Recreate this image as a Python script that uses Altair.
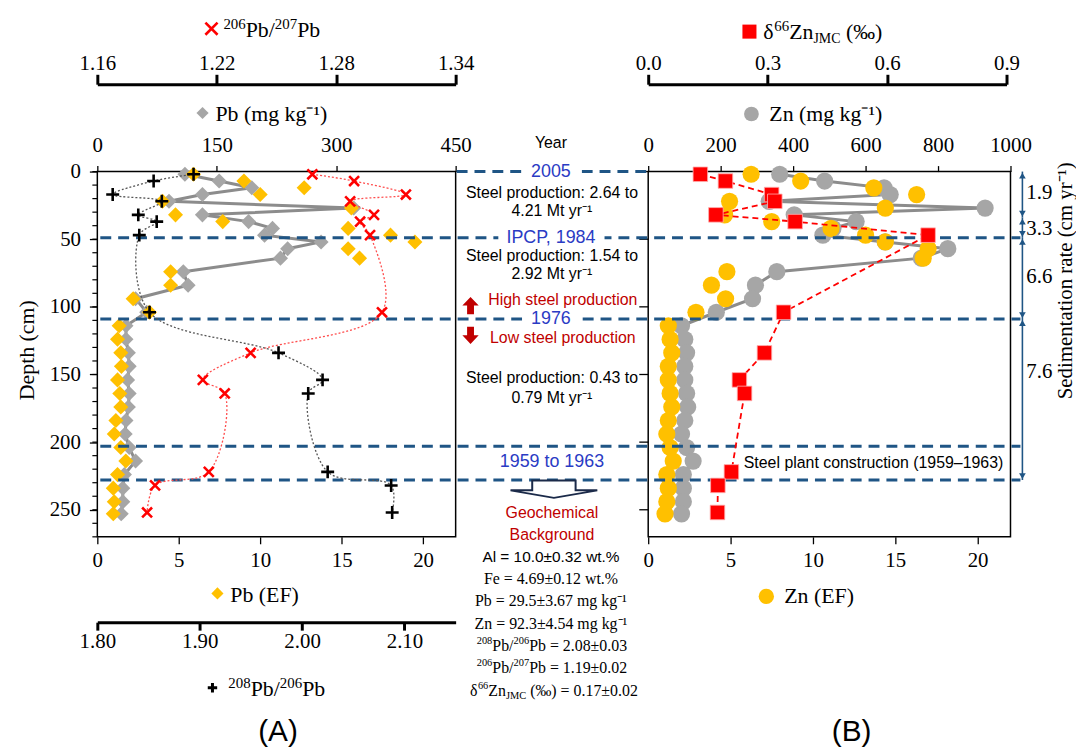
import altair as alt
import pandas as pd

# ---------------- data ----------------
depth_upper = [2, 7, 12, 17, 22, 27, 32, 37, 42, 47, 52, 57, 64, 74, 84, 94, 104]
depth_lower = [114, 124, 134, 144, 154, 164, 174, 184, 194, 204, 214, 224, 234, 244, 253]

pb_mgkg_upper = [110, 153, 194, 132, 90, 322, 132, 190, 220, 210, 281, 239, 230, 108, 114, 48, 62]
pb_mgkg_lower = [36, 36, 39, 40, 38, 40, 39, 36, 35, 40, 48, 34, 32, 32, 30]
pb_ef_upper = [5.9, 9.0, 12.7, 10.0, 4.0, 15.6, 4.8, 7.7, 15.4, 18.0, 19.5, 15.4, 16.1, 4.5, 4.5, 2.2, 3.2]
pb_ef_lower = [1.34, 1.24, 1.44, 1.48, 1.24, 1.38, 1.44, 1.14, 1.04, 1.44, 1.75, 1.24, 0.98, 1.04, 0.98]

zn_mgkg_upper = [363, 487, 651, 668, 334, 930, 403, 574, 510, 482, 654, 827, 754, 355, 296, 288, 188]
zn_mgkg_lower = [92, 101, 106, 101, 101, 106, 109, 101, 92, 106, 124, 97, 97, 97, 92]
zn_ef_upper = [6.25, 9.26, 13.7, 16.3, 4.94, 14.4, 4.64, 7.5, 11.1, 13.2, 14.4, 17.0, 16.7, 4.78, 3.84, 4.7, 2.9]
zn_ef_lower = [1.22, 1.33, 1.43, 1.22, 1.22, 1.33, 1.43, 1.22, 1.13, 1.33, 1.52, 1.13, 1.22, 1.13, 1.02]

iso_depth = [2, 7, 17, 22, 32, 37, 47, 104, 134, 154, 164, 222, 232, 252]
pb206_207 = [1.268, 1.289, 1.315, 1.287, 1.299, 1.292, 1.297, 1.303, 1.237, 1.213, 1.224, 1.216, 1.189, 1.185]
pb208_206 = [1.894, 1.855, 1.815, 1.863, 1.840, 1.858, 1.841, 1.851, 1.977, 2.020, 2.006, 2.025, 2.087, 2.088]
d66zn = [0.131, 0.194, 0.310, 0.318, 0.170, 0.369, 0.703, 0.340, 0.292, 0.229, 0.242, 0.209, 0.175, 0.174]

event_full_depth = [49, 109, 203, 228]
event_label_depth = [0, 49, 109]
event_labels = ["2005", "IPCP, 1984", "1976"]
sed_top = [0, 34, 49, 109]
sed_bottom = [34, 49, 109, 228]
sed_rates = ["1.9", "3.3", "6.6", "7.6"]

depth_ticks = [0, 50, 100, 150, 200, 250]
depth_minor = list(range(0, 271, 10))
pb_ticks = [0, 150, 300, 450]
ef_ticks = [0, 5, 10, 15, 20]
r67_ticks = [1.16, 1.22, 1.28, 1.34]
r86_ticks = [1.80, 1.90, 2.00, 2.10]
zn_ticks = [0, 200, 400, 600, 800, 1000]
dzn_ticks = [0.0, 0.3, 0.6, 0.9]

steel_notes = ["Steel production: 2.64 to", "4.21 Mt yr\u207b\u00b9",
               "Steel production: 1.54 to", "2.92 Mt yr\u207b\u00b9",
               "Steel production: 0.43 to", "0.79 Mt yr\u207b\u00b9"]
background_plain = ["Al = 10.0\u00b10.32 wt.%", "Fe = 4.69\u00b10.12 wt.%",
                    "Pb = 29.5\u00b13.67 mg kg\u207b\u00b9", "Zn = 92.3\u00b14.54 mg kg\u207b\u00b9"]
bg_ratio_86 = "2.08\u00b10.03"
bg_ratio_67 = "1.19\u00b10.02"
bg_dzn = "0.17\u00b10.02"

# ---------------- styling ----------------
SERIF = "Liberation Serif"
SANS = "Liberation Sans"
GRAY = "#A6A6A6"
GRAYL = "#8C8C8C"
YEL = "#FFC000"
RED = "#FF0000"
NAVY = "#1F5585"
BLUE_T = "#2A3BC4"
DRED = "#C00000"

OX, OY = 98, 170          # page position of the plot origin
W, H = 920, 368
L = [0, 361]
R = [555, 920]
RD = [555, 916]

XPATH = "M-1,-1L1,1M-1,1L1,-1"
PPATH = "M-1,0L1,0M0,-1L0,1"
UPARROW = "M0,-1L0.95,0L0.4,0L0.4,1L-0.4,1L-0.4,0L-0.95,0Z"
DNARROW = "M0,1L0.95,0L0.4,0L0.4,-1L-0.4,-1L-0.4,0L-0.95,0Z"
BIGARROW = "M-0.5,-0.2L0.5,-0.2L0.5,0.027L1,0.027L0,0.2L-1,0.027L-0.5,0.027Z"

TIMES_W = {"P": .556, "b": .5, "/": .278, " ": .25, "=": .564, "\u00b1": .549, ".": .25,
           "Z": .611, "n": .5, "\u03b4": .5, "(": .333, ")": .333, "\u2030": 1.0, "J": .389,
           "M": .889, "C": .667, "m": .778, "g": .5, "k": .5}

elem = pd.DataFrame({"depth": depth_upper + depth_lower,
                     "pb": pb_mgkg_upper + pb_mgkg_lower,
                     "pbef": pb_ef_upper + pb_ef_lower,
                     "zn": zn_mgkg_upper + zn_mgkg_lower,
                     "znef": zn_ef_upper + zn_ef_lower})
iso = pd.DataFrame({"depth": iso_depth, "r67": pb206_207, "r86": pb208_206, "dzn": d66zn})
one = pd.DataFrame({"k": [0]})

ysc = alt.Scale(domain=[0, 270], reverse=True, nice=False, zero=False)
yax = alt.Axis(orient="left", values=depth_ticks, tickSize=8, tickWidth=1.3, tickColor="black",
               labelPadding=9, labelFont=SERIF, labelFontSize=21, labelColor="black",
               domain=False, grid=False, title=None)


def Y(f="depth"):
    return alt.Y(f"{f}:Q", scale=ysc, axis=yax)


def xaxis(orient, values, offset=0, fmt=None, domain=False, tick=6, pad=6, tw=1.3):
    kw = dict(orient=orient, values=values, offset=offset, domain=domain, domainColor="black",
              domainWidth=3, tickSize=tick, tickWidth=tw, tickColor="black", labelPadding=pad,
              labelFont=SERIF, labelFontSize=21, labelColor="black", grid=False, title=None,
              labelFlush=False, labelOverlap=False)
    if fmt:
        kw["format"] = fmt
    return alt.Axis(**kw)


def sx(field, dom, rng, axis=None):
    return alt.X(f"{field}:Q", scale=alt.Scale(domain=dom, range=rng, nice=False, zero=False), axis=axis)


def txt(s, px, py, size=16, color="black", font=SANS, align="center", angle=0):
    return alt.Chart(one).mark_text(text=s, font=font, fontSize=size, color=color, align=align,
                                    baseline="middle", angle=angle).encode(
        x=alt.value(px - OX), y=alt.value(py - OY))


def width(s, size):
    return sum(TIMES_W.get(c, 0.5) for c in s) * size


def rich(pieces, x0, py, align="left", color="black"):
    """pieces: (text, size, dy) written one after another in the serif font"""
    total = sum(width(t, s) for t, s, _ in pieces)
    x = x0 - total / 2 if align == "center" else x0
    out = []
    for t, s, dy in pieces:
        if t.strip():
            out.append(txt(t, x, py + dy, size=s, font=SERIF, align="left", color=color))
        x += width(t, s)
    return out


def sym(shape, px, py, size, color, filled=True, sw=1.0, stroke=None):
    kw = dict(shape=shape, size=size, filled=filled, color=color, opacity=1, strokeWidth=sw)
    if stroke:
        kw["stroke"] = stroke
    return alt.Chart(one).mark_point(**kw).encode(x=alt.value(px - OX), y=alt.value(py - OY))


layers = []

# frames
frame = pd.DataFrame({"depth": [0], "depth2": [270], "a0": [0], "a1": [450], "b0": [0], "b1": [1000]})
layers.append(alt.Chart(frame).mark_rect(fillOpacity=0, stroke="black", strokeWidth=1.5).encode(
    x=sx("a0", [0, 450], L), x2="a1", y=Y(), y2="depth2"))
layers.append(alt.Chart(frame).mark_rect(fillOpacity=0, stroke="black", strokeWidth=1.5).encode(
    x=sx("b0", [0, 1000], R), x2="b1", y=Y(), y2="depth2"))

# minor depth ticks & right-panel ticks
layers.append(alt.Chart(pd.DataFrame({"depth": depth_minor})).mark_rule(color="black", strokeWidth=1.2).encode(
    y=Y(), x=alt.value(-5), x2=alt.value(0)))
layers.append(alt.Chart(pd.DataFrame({"depth": depth_ticks})).mark_rule(color="black", strokeWidth=1.3).encode(
    y=Y(), x=alt.value(R[0] - 9), x2=alt.value(R[0])))

# gray lines
layers.append(alt.Chart(elem).mark_line(color=GRAYL, strokeWidth=3).encode(
    x=sx("pb", [0, 450], L), y=Y(), order=alt.Order("depth:Q")))
layers.append(alt.Chart(elem).mark_line(color=GRAYL, strokeWidth=3).encode(
    x=sx("zn", [0, 1000], R), y=Y(), order=alt.Order("depth:Q")))

# gray markers
layers.append(alt.Chart(elem).mark_point(shape="diamond", filled=True, size=230, color=GRAY, opacity=1).encode(
    x=sx("pb", [0, 450], L, xaxis("top", pb_ticks, tick=6, pad=10)), y=Y()))
layers.append(alt.Chart(elem).mark_circle(size=300, color=GRAY, opacity=1).encode(
    x=sx("zn", [0, 1000], R, xaxis("top", zn_ticks, fmt="d", tick=6, pad=10)), y=Y()))

# yellow markers
layers.append(alt.Chart(elem).mark_point(shape="diamond", filled=True, size=230, color=YEL, opacity=1).encode(
    x=sx("pbef", [0, 22], L, xaxis("bottom", ef_ticks, tick=7, pad=6)), y=Y()))
layers.append(alt.Chart(elem).mark_circle(size=300, color=YEL, opacity=1).encode(
    x=sx("znef", [0, 22], R, xaxis("bottom", ef_ticks, tick=7, pad=6)), y=Y()))

# event lines
layers.append(alt.Chart(pd.DataFrame({"depth": event_full_depth})).mark_rule(
    color=NAVY, strokeWidth=3, strokeDash=[11, 7]).encode(y=Y(), x=alt.value(3), x2=alt.value(930)))
layers.append(alt.Chart(pd.DataFrame({"depth": [0]})).mark_rule(
    color=NAVY, strokeWidth=3, strokeDash=[11, 7]).encode(y=Y(), x=alt.value(362), x2=alt.value(R[0])))
evlab = pd.DataFrame({"depth": event_label_depth, "label": event_labels})
for d, (a, b) in zip(event_label_depth, [(428, 488), (404, 511), (428, 488)]):
    layers.append(alt.Chart(pd.DataFrame({"depth": [d]})).mark_rule(color="white", strokeWidth=12).encode(
        y=Y(), x=alt.value(a), x2=alt.value(b)))
layers.append(alt.Chart(evlab).mark_text(font=SANS, fontSize=18, color=BLUE_T, baseline="middle").encode(
    y=Y(), x=alt.value(457), text="label:N"))

# isotope lines
layers.append(alt.Chart(iso).mark_line(color="#FF4D4D", strokeWidth=1.3, strokeDash=[2, 2],
                                       interpolate="catmull-rom").encode(
    x=sx("r67", [1.16, 1.34], L), y=Y(), order=alt.Order("depth:Q")))
layers.append(alt.Chart(iso).mark_line(color="#555555", strokeWidth=1.3, strokeDash=[2, 2],
                                       interpolate="catmull-rom").encode(
    x=sx("r86", [1.80, 2.15], L), y=Y(), order=alt.Order("depth:Q")))
layers.append(alt.Chart(iso).mark_line(color=RED, strokeWidth=1.8, strokeDash=[6, 4]).encode(
    x=sx("dzn", [0, 0.9], RD), y=Y(), order=alt.Order("depth:Q")))

# isotope markers
layers.append(alt.Chart(iso).mark_point(shape=XPATH, filled=False, size=100, color=RED, opacity=1,
                                        strokeWidth=2.6).encode(
    x=sx("r67", [1.16, 1.34], L, xaxis("top", r67_ticks, offset=88, fmt=".2f", domain=True, tick=10, pad=1, tw=3)),
    y=Y()))
layers.append(alt.Chart(iso).mark_point(shape=PPATH, filled=False, size=170, color="black", opacity=1,
                                        strokeWidth=2.6).encode(
    x=sx("r86", [1.80, 2.15], L, xaxis("bottom", r86_ticks, offset=86, fmt=".2f", domain=True, tick=8, pad=1, tw=3)),
    y=Y()))
layers.append(alt.Chart(iso).mark_point(shape="square", filled=True, size=215, color=RED, opacity=1,
                                        stroke="#FFB0B0", strokeWidth=0.8).encode(
    x=sx("dzn", [0, 0.9], RD, xaxis("top", dzn_ticks, offset=88, fmt=".1f", domain=True, tick=10, pad=1, tw=3)),
    y=Y()))

# sedimentation-rate bar
sed = pd.DataFrame({"depth": sed_top, "depth_end": sed_bottom})
layers.append(alt.Chart(sed).mark_rule(color=NAVY, strokeWidth=1.6).encode(
    y=Y(), y2="depth_end", x=alt.value(932)))
layers.append(alt.Chart(sed).mark_point(shape="triangle-up", filled=True, size=45, color=NAVY, opacity=1,
                                        yOffset=4).encode(y=Y(), x=alt.value(932)))
layers.append(alt.Chart(sed).mark_point(shape="triangle-down", filled=True, size=45, color=NAVY, opacity=1,
                                        yOffset=-4).encode(y=Y("depth_end"), x=alt.value(932)))
for s, py in zip(sed_rates, [192, 228, 276, 372]):
    layers.append(txt(s, 1034, py, size=21, font=SERIF, align="left"))
layers.append(txt("Sedimentation rate (cm yr\u207b\u00b9)", 1074, 280, size=21, font=SERIF, angle=270))

# axis titles with legend symbols
layers.append(sym(XPATH, 213, 26, 150, RED, filled=False, sw=2.6))
layers += rich([("206", 15, -6), ("Pb/", 22, 0), ("207", 15, -6), ("Pb", 22, 0)], 225, 27)
layers.append(sym("diamond", 204, 111, 150, GRAY))
layers.append(txt("Pb (mg kg\u207b\u00b9)", 217, 112, size=22, font=SERIF, align="left"))
layers.append(sym("diamond", 219, 595, 150, YEL))
layers.append(txt("Pb (EF)", 232, 597, size=22, font=SERIF, align="left"))
layers.append(sym(PPATH, 214, 690, 90, "black", filled=False, sw=3))
layers += rich([("208", 15, -6), ("Pb/", 22, 0), ("206", 15, -6), ("Pb", 22, 0)], 230, 691)
layers.append(txt("Depth (cm)", 27, 350, size=22, font=SERIF, angle=270))
layers.append(txt("(A)", 280, 735, size=30))

layers.append(sym("square", 755, 29, 200, RED))
layers += rich([("\u03b4", 22, 0), ("66", 15, -6), ("Zn", 22, 0), ("JMC", 14, 7), (" ", 22, 0),
                ("(\u2030)", 22, 0)], 769, 29)
layers.append(sym("circle", 757, 112, 220, GRAY))
layers.append(txt("Zn (mg kg\u207b\u00b9)", 775, 112, size=22, font=SERIF, align="left"))
layers.append(sym("circle", 772, 598, 240, YEL))
layers.append(txt("Zn (EF)", 790, 598, size=22, font=SERIF, align="left"))
layers.append(txt("(B)", 858, 735, size=30))
layers.append(txt("Steel plant construction (1959\u20131963)", 880, 464, size=16))

# middle annotation column
layers.append(txt("Year", 555, 141, size=16))
for s, py in zip(steel_notes, [192, 210, 255, 273, 378, 398]):
    layers.append(txt(s, 556, py, size=16))
layers.append(sym(UPARROW, 474, 305, 300, DRED))
layers.append(txt("High steel production", 567, 299, size=16, color=DRED))
layers.append(sym(DNARROW, 474, 335, 300, DRED))
layers.append(txt("Low steel production", 567, 338, size=16, color=DRED))
layers.append(txt("1959 to 1963", 556, 463, size=18, color=BLUE_T))
layers.append(sym(BIGARROW, 558, 490, 7640, "white", filled=True, sw=2, stroke="#1B2A49"))
layers.append(txt("Geochemical", 556, 514, size=16, color=DRED))
layers.append(txt("Background", 556, 536, size=16, color=DRED))
for i, (s, py) in enumerate(zip(background_plain, [558, 581, 603, 626])):
    layers.append(txt(s, 555, py, size=16 if i else 15.5, font=SERIF if i else SANS))
layers += rich([("208", 10.5, -5), ("Pb/", 16, 0), ("206", 10.5, -5), ("Pb = " + bg_ratio_86, 16, 0)],
               556, 648, align="center")
layers += rich([("206", 10.5, -5), ("Pb/", 16, 0), ("207", 10.5, -5), ("Pb = " + bg_ratio_67, 16, 0)],
               556, 670, align="center")
layers += rich([("\u03b4", 16, 0), ("66", 10.5, -5), ("Zn", 16, 0), ("JMC", 10.5, 5), (" ", 16, 0),
                ("(\u2030) = " + bg_dzn, 16, 0)], 558, 693, align="center")

chart = alt.layer(*layers).resolve_scale(x="independent").properties(
    width=W, height=H,
    padding={"left": 90, "top": 162, "right": 66, "bottom": 215},
    autosize=alt.AutoSizeParams(type="none"),
).configure_view(stroke=None)

chart.save("out.html", embed_options={"renderer": "svg", "actions": False})
